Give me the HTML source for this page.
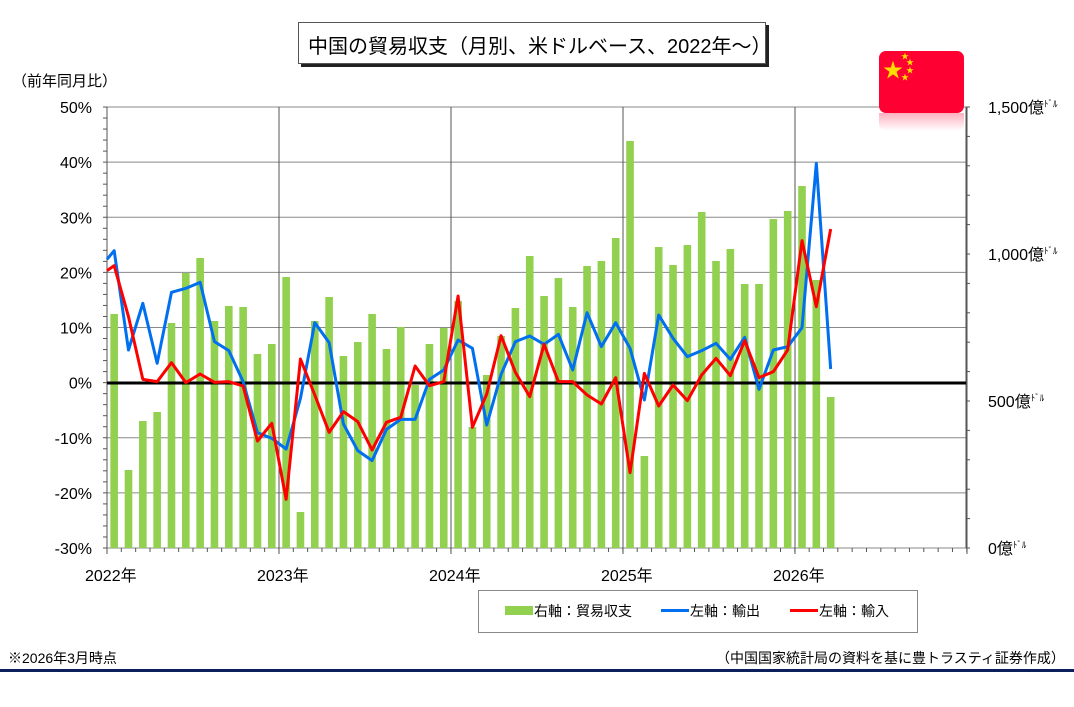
<!DOCTYPE html>
<html><head><meta charset="utf-8"><style>
body{margin:0;background:#fff;width:1074px;height:707px;overflow:hidden;position:relative;font-family:"Liberation Sans","Noto Sans CJK JP",sans-serif;}
.t{position:absolute;white-space:nowrap;color:#000;}
.st{position:absolute;font-size:8px;color:#ffdd00;line-height:8px;}
</style></head><body>
<div style="position:absolute;left:301px;top:25px;width:468px;height:42px;background:#222;"></div>
<div style="position:absolute;left:298px;top:22px;width:466px;height:40px;background:#fff;border:1px solid #555;"></div>
<div class="t" style="left:308px;top:30px;font-size:20px;">中国の貿易収支（月別、米ドルベース、2022年～）</div>
<div class="t" style="left:12px;top:70px;font-size:15px;">（前年同月比）</div>
<svg id="s" width="1074" height="707" style="position:absolute;left:0;top:0"></svg>
<div style="position:absolute;left:879px;top:51px;width:85px;height:62px;background:#ff0033;border-radius:7px;"></div>
<div style="position:absolute;left:879px;top:113px;width:85px;height:18px;background:linear-gradient(#ffb0bf,#fff);border-radius:0 0 7px 7px;"></div>
<div class="t" style="left:883px;top:54px;font-size:20px;color:#ffdd00;">★</div>
<div class="st" style="left:901px;top:53px;">★</div>
<div class="st" style="left:906px;top:59px;">★</div>
<div class="st" style="left:906px;top:67px;">★</div>
<div class="st" style="left:901px;top:74px;">★</div>
<div style="position:absolute;left:478px;top:590px;width:438px;height:41px;border:1px solid #888;"></div>
<div style="position:absolute;left:505px;top:606px;width:28px;height:9px;background:#92d050;"></div>
<div style="position:absolute;left:661px;top:609px;width:28px;height:3px;background:#0070f0;"></div>
<div style="position:absolute;left:790px;top:609px;width:28px;height:3px;background:#ff0000;"></div>
<div class="t" style="left:534px;top:601px;font-size:14px;">右軸：貿易収支</div>
<div class="t" style="left:690px;top:601px;font-size:14px;">左軸：輸出</div>
<div class="t" style="left:819px;top:601px;font-size:14px;">左軸：輸入</div>
<div class="t" style="left:8px;top:648px;font-size:14px;">※2026年3月時点</div>
<div class="t" style="left:716px;top:648px;font-size:14px;">（中国国家統計局の資料を基に豊トラスティ証券作成）</div>
<div style="position:absolute;left:0;top:669px;width:1074px;height:3px;background:#0a1f5c;"></div>
<script>
var s=document.getElementById('s'),h='';
var L=107,R=966,T=107,B=548,M=14.33;
function yp(p){return T+(50-p)*5.5125;}
for(var p=50;p>=-30;p-=10){var y=yp(p);h+='<line x1="'+L+'" x2="'+R+'" y1="'+y+'" y2="'+y+'" stroke="#888" stroke-width="1"/>';
h+='<text x="92" y="'+(y+6)+'" font-size="16" text-anchor="end">'+p+'%</text>';}
for(var k=0;k<=5;k++){var x=L+k*172;h+='<line x1="'+x+'" x2="'+x+'" y1="'+T+'" y2="'+(B+6)+'" stroke="#555"/>';}
for(var k=0;k<5;k++)h+='<text x="'+(L+k*172-22)+'" y="581" font-size="16">'+(2022+k)+'年</text>';
for(var i=0;i<=60;i++){var x=L+i*M;h+='<line x1="'+x+'" x2="'+x+'" y1="'+B+'" y2="'+(B+4)+'" stroke="#555"/>';}
for(var p=50;p>=-30;p-=2){var y=yp(p);h+='<line x1="'+(L-4)+'" x2="'+L+'" y1="'+y+'" y2="'+y+'" stroke="#555"/>';}
for(var v=0;v<=1500;v+=100){var y=B-v*441/1500;h+='<line x1="'+R+'" x2="'+(R+4)+'" y1="'+y+'" y2="'+y+'" stroke="#555"/>';}
h+='<line x1="'+L+'" x2="'+L+'" y1="'+T+'" y2="'+B+'" stroke="#555"/><line x1="'+R+'" x2="'+R+'" y1="'+T+'" y2="'+B+'" stroke="#555"/>';
var rl=[[1500,'1,500'],[1000,'1,000'],[500,'500'],[0,'0']];
rl.forEach(function(r){var y=B-r[0]*441/1500;h+='<text x="988" y="'+(y+6)+'" font-size="16">'+r[1]+'億<tspan font-size="9" dy="-6">ﾄﾞﾙ</tspan></text>';});
var bars=[314,470,421,412,323,273,258,321,306,307,354,344,277,512,321,297,356,342,314,349,327,385,344,328,301,427,375,336,308,256,296,278,307,266,261,238,141,456,247,265,245,212,261,249,284,284,219,211,186,280,397];
bars.forEach(function(t,i){var c=L+(i+0.5)*M;h+='<rect x="'+(c-3.8)+'" y="'+t+'" width="7.6" height="'+(B-t)+'" fill="#92d050"/>';});
h+='<line x1="'+L+'" x2="'+R+'" y1="383" y2="383" stroke="#000" stroke-width="3"/>';
var b1=[478,452,750,610,790,577,565,547,725,752,845,998,1015,1047,895,668,728,972,1052,1082,988,958,958,838,810];
var r1=[512,497,650,838,845,788,848,822,847,845,858,1023,970,1198,777,885,997,935,965,1050,967,952,798,857,845];
var b2=[720,745,975,823,725,708,733,703,810,638,740,668,745,900,645,715,770,752,730,778,712,868,750,740,683,190,807];
var r2=[588,982,882,707,817,890,733,845,845,885,912,833,1118,820,918,855,902,825,775,827,722,833,815,750,422,620,387];
function pts(a,b){var o=[];o.push(L+','+(100+a[0]/3));for(var i=1;i<a.length;i++)o.push((L+(i-0.5)*M)+','+(100+a[i]/3));
for(var j=0;j<b.length;j++)o.push((L+(24+j+0.5)*M)+','+(100+b[j]/3));return o.join(' ');}
h+='<polyline points="'+pts(b1,b2)+'" fill="none" stroke="#0070f0" stroke-width="3" stroke-linejoin="round"/>';
h+='<polyline points="'+pts(r1,r2)+'" fill="none" stroke="#ff0000" stroke-width="3" stroke-linejoin="round"/>';
s.innerHTML=h;
</script>
</body></html>
